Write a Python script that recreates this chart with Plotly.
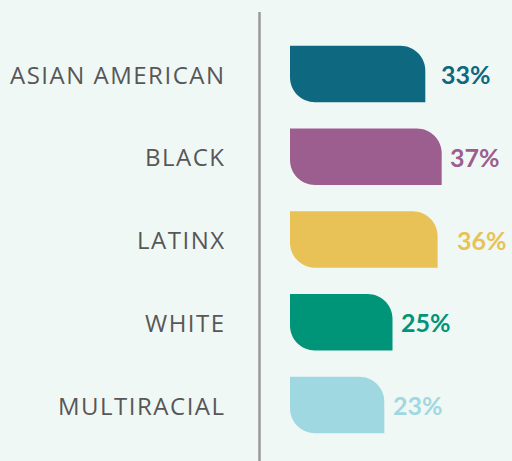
import plotly.graph_objects as go

categories = ["ASIAN AMERICAN", "BLACK", "LATINX", "WHITE", "MULTIRACIAL"]
values = [33, 37, 36, 25, 23]
colors = ["#0e6880", "#9c5e8f", "#e8c256", "#009478", "#a0d8e2"]
label_gap = [14, 6, 17, 6, 7]  # px between bar end and value label

W, H = 512, 461
px_per_pct = 4.1
x0_px = 290
row_px = 82.75
first_row_px = 74
bar_h = 0.68
radius_px = 25

x_range = [-x0_px / px_per_pct, (W - x0_px) / px_per_pct]
y_range = [(len(categories) - 1) + (H - first_row_px - row_px * (len(categories) - 1)) / row_px,
           -first_row_px / row_px]

rx = radius_px / px_per_pct
ry = radius_px / row_px
k = 0.5523


def leaf_path(i, v):
    # rounded top-right and bottom-left corners
    top, bot = i - bar_h / 2, i + bar_h / 2
    return (
        f"M 0,{top} L {v - rx},{top} "
        f"C {v - rx + k * rx},{top} {v},{top + ry - k * ry} {v},{top + ry} "
        f"L {v},{bot} L {rx},{bot} "
        f"C {rx - k * rx},{bot} 0,{bot - ry + k * ry} 0,{bot - ry} Z"
    )


fig = go.Figure()

for i, (cat, v, c) in enumerate(zip(categories, values, colors)):
    fig.add_shape(type="path", path=leaf_path(i, v), xref="x", yref="y",
                  fillcolor=c, line=dict(width=0), layer="above")
    fig.add_annotation(x=v, y=i, text=f"<b>{v}%</b>", showarrow=False,
                       xanchor="left", yanchor="middle", xshift=label_gap[i],
                       font=dict(family="Lato", size=25, color=c))
    fig.add_annotation(x=228 / W, xref="paper", y=i, yref="y",
                       text=f'<span style="letter-spacing:1.5px">{cat}</span>',
                       showarrow=False, xanchor="right", yanchor="middle",
                       font=dict(family="Open Sans", size=24, color="#575757"))

# invisible trace so the axes exist
fig.add_trace(go.Scatter(x=values, y=list(range(len(values))), mode="markers",
                         marker=dict(color="rgba(0,0,0,0)"), hoverinfo="skip",
                         showlegend=False))

# divider line
fig.add_shape(type="line", xref="paper", yref="paper",
              x0=259.5 / W, x1=259.5 / W, y0=0, y1=1 - 12 / H,
              line=dict(color="#9a9a9a", width=2.5))

fig.update_xaxes(range=x_range, visible=False, fixedrange=True)
fig.update_yaxes(range=y_range, visible=False, fixedrange=True)
fig.update_layout(
    width=W, height=H,
    margin=dict(l=0, r=0, t=0, b=0),
    paper_bgcolor="#f0f8f5",
    plot_bgcolor="#f0f8f5",
    showlegend=False,
)

fig.write_html("out.html", post_script="document.body.style.margin='0';",
               config={"displayModeBar": False})
